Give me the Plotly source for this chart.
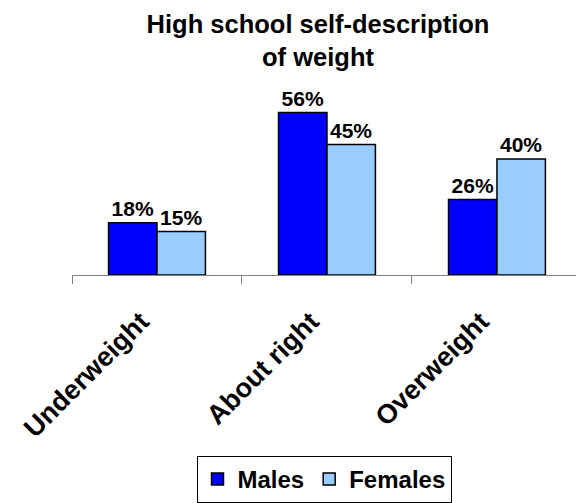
import plotly.graph_objects as go

categories = ["Underweight", "About right", "Overweight"]
males = [18, 56, 26]
females = [15, 45, 40]

FONT = "Arial, 'Liberation Sans', sans-serif"

fig = go.Figure()
fig.add_trace(go.Bar(
    name="Males", x=categories, y=males,
    text=[f"{v}%" for v in males], textposition="outside",
    marker=dict(color="#0000FF", line=dict(color="black", width=1.5)),
    cliponaxis=False,
))
fig.add_trace(go.Bar(
    name="Females", x=categories, y=females,
    text=[f"{v}%" for v in females], textposition="outside",
    marker=dict(color="#99CCFF", line=dict(color="black", width=1.5)),
    cliponaxis=False,
))

fig.update_traces(textfont=dict(family=FONT, size=21, color="black", weight="bold"))

fig.update_layout(
    width=576, height=503,
    margin=dict(l=72, r=0, t=101, b=228),
    paper_bgcolor="white", plot_bgcolor="white",
    barmode="group", bargap=0.43, bargroupgap=0,
    font=dict(family=FONT, color="black"),
    title=dict(
        text="<b>High school self-description<br>of weight</b>",
        font=dict(family=FONT, size=25.5, color="black"),
        x=318 / 576, xanchor="center", xref="container",
        y=1 - 33 / 503, yanchor="top", yref="container",
    ),
    xaxis=dict(
        range=[-0.5, 2.465], showgrid=False, zeroline=False,
        showline=True, linecolor="#808080", linewidth=1,
        ticks="outside", tickson="boundaries", ticklen=8, tickcolor="#808080",
        tickangle=-45, ticklabelstandoff=19, ticklabelshift=-16,
        tickfont=dict(family=FONT, size=27, color="black", weight="bold"),
    ),
    yaxis=dict(range=[0, 60], visible=False),
    showlegend=True,
    legend=dict(
        orientation="h", x=0.5, xanchor="center", y=(275 - 456) / 174, yanchor="top",
        bordercolor="black", borderwidth=1, itemwidth=30,
        font=dict(family=FONT, size=24, color="black", weight="bold"),
    ),
)

fig.write_html("out.html")
